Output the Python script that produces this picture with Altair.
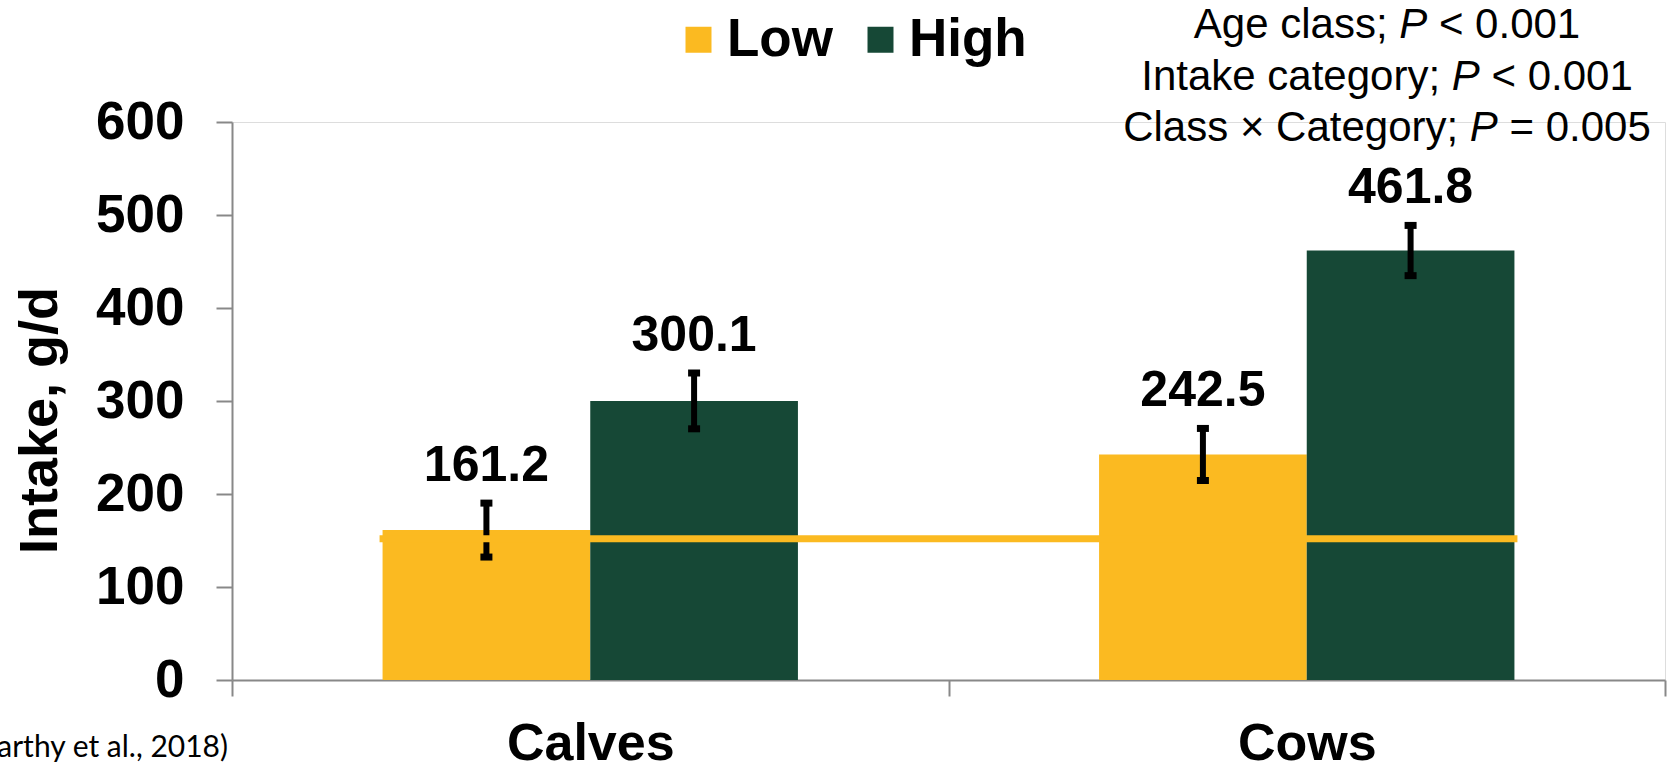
import altair as alt
import pandas as pd

# ---- data -------------------------------------------------------------
age_class = ["Calves", "Calves", "Cows", "Cows"]
intake_category = ["Low", "High", "Low", "High"]
intake_g_d = [161.2, 300.1, 242.5, 461.8]
intake_se = [29, 30, 28, 27]
reference_intake = 152
y_ticks = [0, 100, 200, 300, 400, 500, 600]

stats_lines = [
    ("Age class; ", "P", " < 0.001"),
    ("Intake category; ", "P", " < 0.001"),
    ("Class \u00d7 Category; ", "P", " = 0.005"),
]
citation = "(McCarthy et al., 2018)"

# ---- style ------------------------------------------------------------
YELLOW = "#FBBA21"
GREEN = "#164836"
AXIS_GREY = "#888888"
FONT = "Liberation Sans"

W, H = 1433, 558
PAD = {"left": 232, "top": 122, "right": 10, "bottom": 89}
OFFSET_OUTER = 0.725  # space between each group of bars and its band edge

df = pd.DataFrame({
    "age": age_class,
    "level": intake_category,
    "intake": intake_g_d,
    "se": intake_se,
})
df["lo"] = df["intake"] - df["se"]
df["hi"] = df["intake"] + df["se"]

x_enc = alt.X(
    "age:N",
    sort=["Calves", "Cows"],
    scale=alt.Scale(paddingInner=0, paddingOuter=0),
    axis=alt.Axis(
        title=None, labelAngle=0, labelFont=FONT, labelFontSize=52,
        labelFontWeight="bold", labelColor="black", labelPadding=22,
        tickBand="extent", tickSize=16, tickWidth=2, tickColor=AXIS_GREY,
        domainColor=AXIS_GREY, domainWidth=2, grid=False,
    ),
)
xo_enc = alt.XOffset(
    "level:N", sort=["Low", "High"],
    scale=alt.Scale(paddingInner=0, paddingOuter=OFFSET_OUTER),
)
y_scale = alt.Scale(domain=[0, 600], nice=False)

base = alt.Chart(df)

bars = base.mark_bar().encode(
    x=x_enc,
    xOffset=xo_enc,
    y=alt.Y(
        "intake:Q", scale=y_scale,
        axis=alt.Axis(
            values=y_ticks, title="Intake, g/d", titleFont=FONT,
            titleFontSize=54, titleFontWeight="bold", titleColor="black",
            titlePadding=28, titleY=298,
            labelFont=FONT, labelFontSize=53, labelFontWeight="bold",
            labelColor="black", labelPadding=32, tickSize=16, tickWidth=2,
            tickColor=AXIS_GREY, domainColor=AXIS_GREY, domainWidth=2,
            grid=False,
        ),
    ),
    color=alt.Color(
        "level:N",
        scale=alt.Scale(domain=["Low", "High"], range=[YELLOW, GREEN]),
        legend=alt.Legend(
            title=None, orient="none", legendX=440, legendY=-109,
            direction="horizontal", symbolType="square", symbolSize=676,
            symbolStrokeWidth=0, labelFont=FONT, labelFontSize=53,
            labelFontWeight="bold", labelColor="black", labelOffset=2,
            columnPadding=21, padding=0,
        ),
    ),
)

whiskers = base.mark_rule(color="black", strokeWidth=6).encode(
    x=alt.X("age:N", sort=["Calves", "Cows"]),
    xOffset=xo_enc,
    y=alt.Y("lo:Q", scale=y_scale),
    y2="hi:Q",
)
caps_top = base.mark_tick(
    color="black", size=12, thickness=7, orient="horizontal", opacity=1
).encode(
    x=alt.X("age:N", sort=["Calves", "Cows"]),
    xOffset=xo_enc,
    y=alt.Y("hi:Q", scale=y_scale),
)
caps_bottom = base.mark_tick(
    color="black", size=12, thickness=7, orient="horizontal", opacity=1
).encode(
    x=alt.X("age:N", sort=["Calves", "Cows"]),
    xOffset=xo_enc,
    y=alt.Y("lo:Q", scale=y_scale),
)

# reference level line running across all four bars
band = W / 2
step = band / (2 + 2 * OFFSET_OUTER)
edge = OFFSET_OUTER * step
ref_line = alt.Chart(pd.DataFrame({"ref": [reference_intake]})).mark_rule(
    color=YELLOW, strokeWidth=7
).encode(
    y=alt.Y("ref:Q", scale=y_scale),
    x=alt.value(edge - 3),
    x2=alt.value(W - edge + 3),
)

value_labels = base.mark_text(
    font=FONT, fontSize=50, fontWeight="bold", color="black",
    baseline="alphabetic", dy=-22,
).encode(
    x=alt.X("age:N", sort=["Calves", "Cows"]),
    xOffset=xo_enc,
    y=alt.Y("hi:Q", scale=y_scale),
    text=alt.Text("intake:Q", format=".1f"),
)

# ---- statistics block (regular text with an italic P) -----------------
ARIAL_W = {
    "A": 667, "g": 556, "e": 556, " ": 278, "c": 500, "l": 222, "a": 556,
    "s": 500, ";": 278, "I": 278, "n": 556, "t": 278, "k": 500, "y": 500,
    "o": 556, "r": 333, "\u00d7": 584, "C": 722, "=": 584, "<": 584,
    "0": 556, ".": 278, "1": 556, "5": 556, "P": 667,
}


def text_width(s, size):
    return sum(ARIAL_W.get(ch, 556) for ch in s) / 1000 * size


STAT_SIZE = 42
stat_center = 1155
stat_baselines = [-84, -32, 19]
one_row = alt.Data(values=[{"k": 0}])
stat_layers = []
for (pre, sym, post), yb in zip(stats_lines, stat_baselines):
    total = text_width(pre + sym + post, STAT_SIZE)
    x0 = stat_center - total / 2
    x1 = x0 + text_width(pre, STAT_SIZE)
    x2 = x1 + text_width(sym, STAT_SIZE)
    lead = text_width(post[: len(post) - len(post.lstrip())], STAT_SIZE)
    parts = [
        (pre.strip(), x0, "normal"),
        (sym, x1, "italic"),
        (post.strip(), x2 + lead, "normal"),
    ]
    for txt, xp, style in parts:
        stat_layers.append(
            alt.Chart(one_row).mark_text(
                text=txt, x=xp, y=yb, align="left", baseline="alphabetic",
                font=FONT, fontSize=STAT_SIZE, fontStyle=style, color="black",
            )
        )

cite = alt.Chart(one_row).mark_text(
    text=citation, x=-4, y=635, align="right", baseline="alphabetic",
    font="Lato", fontSize=30, color="black",
)

chart = alt.layer(
    bars, whiskers, caps_top, caps_bottom, ref_line, value_labels,
    *stat_layers, cite,
).properties(
    width=W, height=H, padding=PAD,
    autosize=alt.AutoSizeParams(type="none"),
).configure_view(stroke=None).configure(background="white")

chart.save("out.html", embed_options={"renderer": "svg", "actions": False})
